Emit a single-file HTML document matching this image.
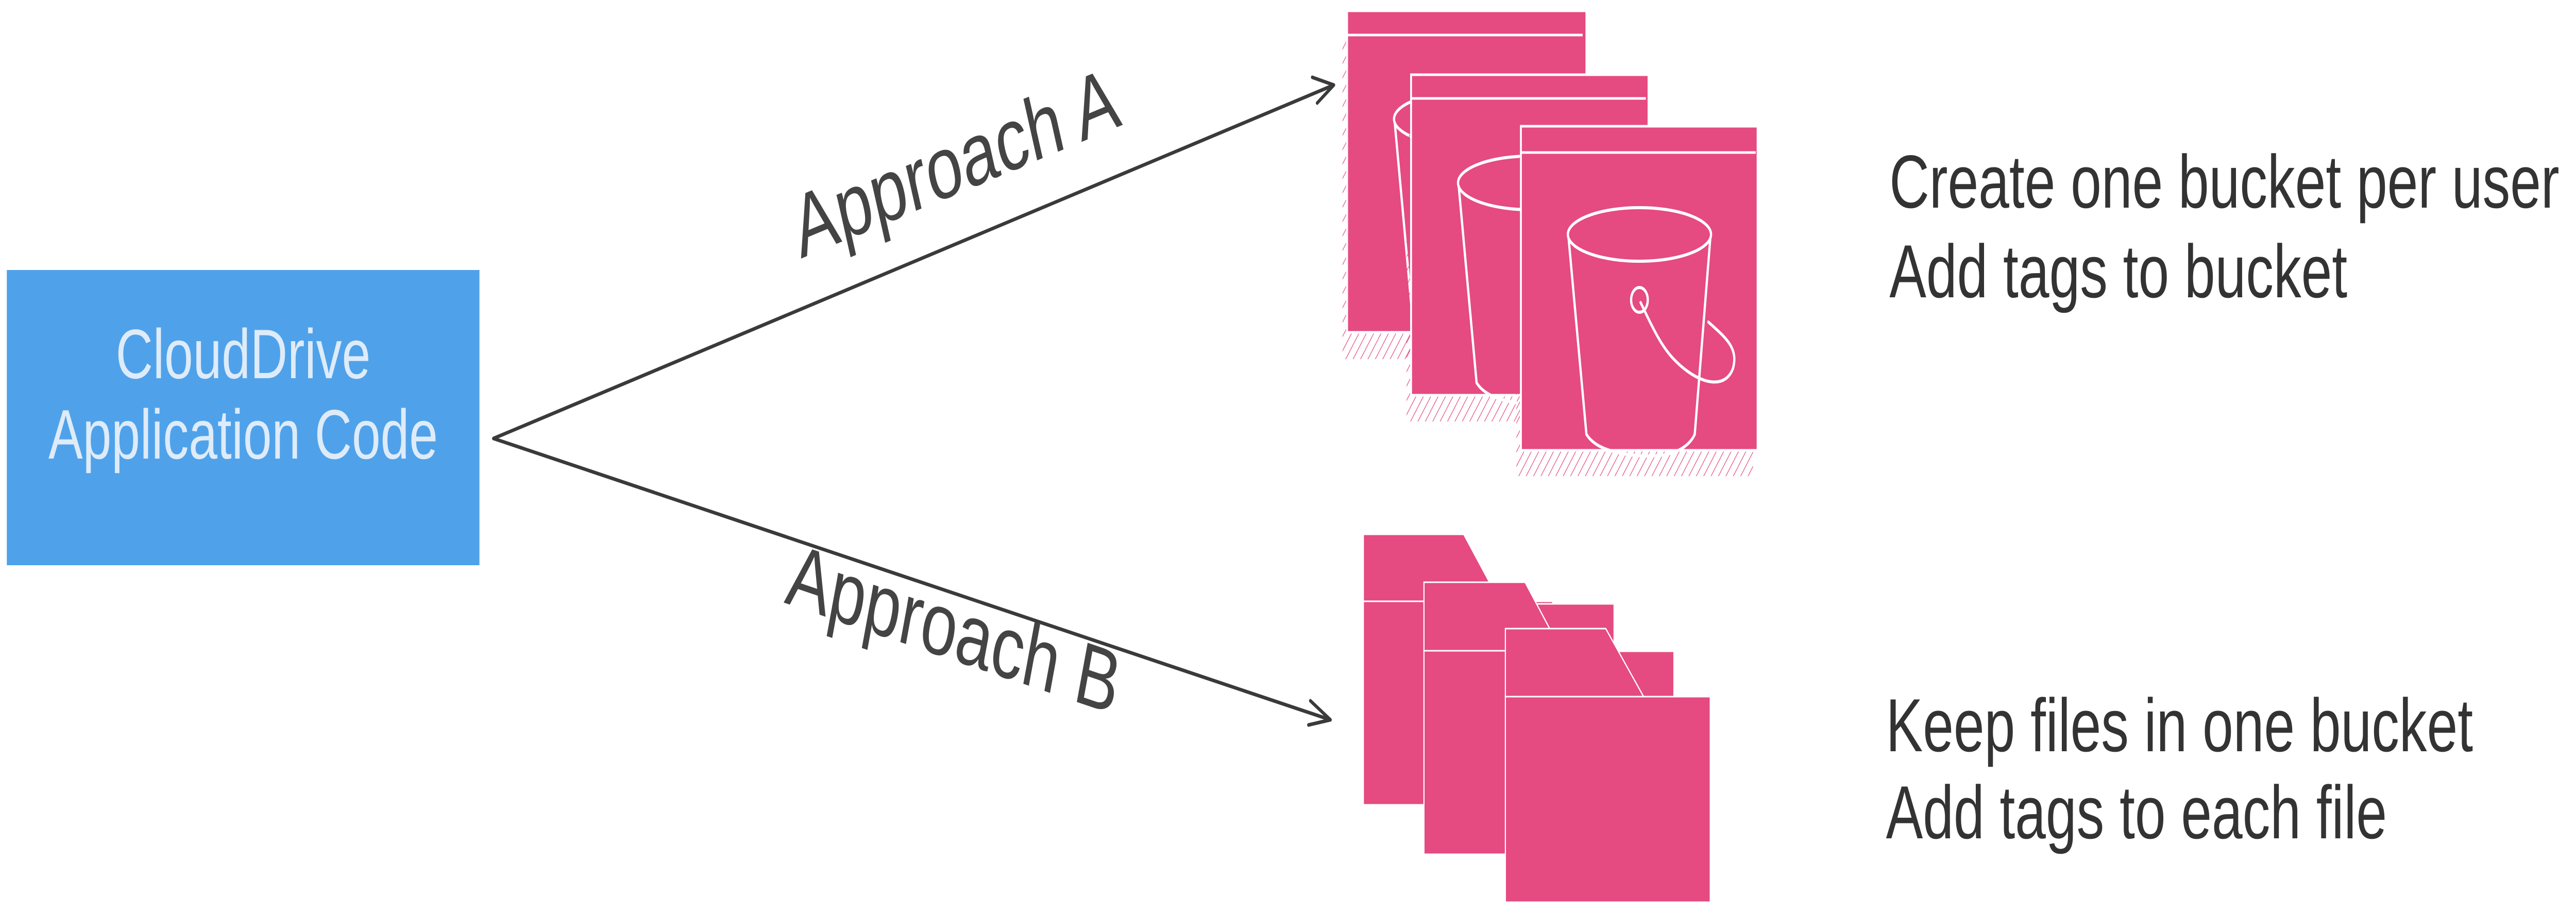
<!DOCTYPE html>
<html><head><meta charset="utf-8"><style>
html,body{margin:0;padding:0;background:#fff;width:100%;height:100%;overflow:hidden;}
svg{display:block;position:fixed;left:0;top:0;width:100vw;height:100vh;}
</style></head><body>
<svg viewBox="0 0 6802 1770" preserveAspectRatio="none" xmlns="http://www.w3.org/2000/svg" font-family="Liberation Sans, Arial, sans-serif">
<defs>
<pattern id="hatch" patternUnits="userSpaceOnUse" width="16" height="16" patternTransform="rotate(35)">
<line x1="0" y1="0" x2="0" y2="16" stroke="#e44a80" stroke-width="3"/>
</pattern>
<g id="bucket" fill="none" stroke="#fff" stroke-width="6" stroke-linejoin="round" stroke-linecap="round">
<ellipse cx="313" cy="210" rx="189" ry="52"/>
<path d="M126,218 L173,598 Q190,618 230,628 Q300,645 380,638 Q440,628 459,598 L500,218"/>
<ellipse cx="313" cy="337" rx="22" ry="24"/>
<path d="M316,342 C360,410 380,440 430,470 C480,500 540,510 560,470 C575,430 540,410 495,380"/>
</g>
</defs>
<rect width="6802" height="1770" fill="#fff"/>

<rect x="18" y="524" width="1248" height="573" fill="#4fa2ea"/>
<text x="642" y="734" font-size="136" fill="#deebf9" text-anchor="middle">CloudDrive</text>
<text x="642" y="890" font-size="136" fill="#deebf9" text-anchor="middle">Application Code</text>

<g stroke="#3a3a3a" stroke-width="7" stroke-linecap="round" fill="none" stroke-linejoin="round">
<line x1="1303" y1="851" x2="3522" y2="165"/>
<polyline points="3465,150 3522,165 3478,200"/>
<line x1="1303" y1="851" x2="3513" y2="1397"/>
<polyline points="3460,1360 3513,1397 3455,1407"/>
</g>
<text x="0" y="0" font-size="172" fill="#444" text-anchor="middle" transform="translate(2540,372) rotate(-17)">Approach A</text>
<text x="0" y="0" font-size="172" fill="#444" text-anchor="middle" transform="translate(2505,1278) rotate(14)">Approach B</text>

<g transform="translate(3557,21)">
<rect x="-12" y="50" width="628" height="626" fill="url(#hatch)"/>
<rect x="0" y="0" width="632" height="624" fill="#e54a80" stroke="#fff" stroke-width="5"/>
<line x1="0" y1="47" x2="622" y2="47" stroke="#fff" stroke-width="5"/>
<use href="#bucket"/>
</g>
<g transform="translate(3726,145)">
<rect x="-12" y="50" width="624" height="623" fill="url(#hatch)"/>
<rect x="0" y="0" width="627" height="622" fill="#e54a80" stroke="#fff" stroke-width="5"/>
<line x1="0" y1="46" x2="620" y2="46" stroke="#fff" stroke-width="5"/>
<use href="#bucket"/>
</g>
<g transform="translate(4016,245)">
<rect x="-12" y="50" width="625" height="629" fill="url(#hatch)"/>
<rect x="0" y="0" width="625" height="629" fill="#e54a80" stroke="#fff" stroke-width="5"/>
<line x1="0" y1="51" x2="620" y2="51" stroke="#fff" stroke-width="5"/>
<use href="#bucket"/>
</g>

<g fill="#e54a80" stroke="#fff" stroke-width="3">
<polygon points="3600,1037 3865,1037 3960,1167 3600,1167"/>
<rect x="3600" y="1167" width="500" height="395"/>
<rect x="4027" y="1172" width="235" height="91"/>
<polygon points="3760,1130 4027,1130 4123,1263 3760,1263"/>
<rect x="3760" y="1263" width="502" height="395"/>
<rect x="4240" y="1264" width="180" height="88"/>
<polygon points="3975,1220 4240,1220 4340,1352 3975,1352"/>
<rect x="3975" y="1352" width="541" height="399"/>
</g>

<g font-size="146" fill="#333">
<text x="4989" y="403">Create one bucket per user</text>
<text x="4989" y="577">Add tags to bucket</text>
<text x="4980" y="1458">Keep files in one bucket</text>
<text x="4980" y="1627">Add tags to each file</text>
</g>
</svg>
</body></html>
